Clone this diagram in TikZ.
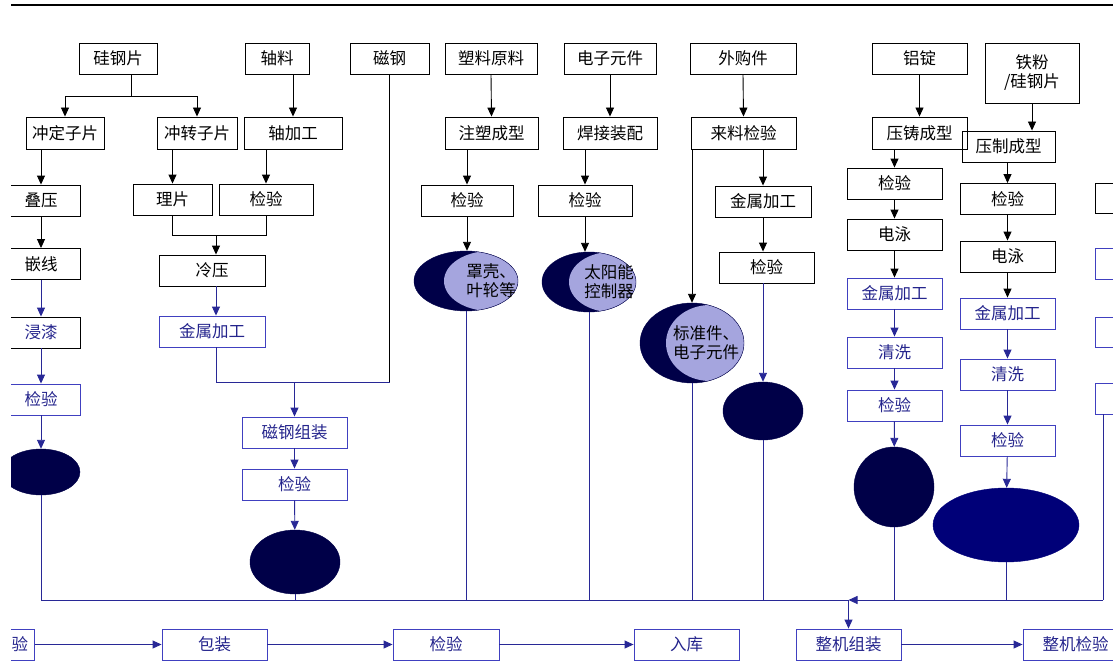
\documentclass[tikz,border=0pt]{standalone}
\usepackage{fontspec}
\setmainfont{Noto Sans CJK SC}
\usetikzlibrary{arrows.meta,shapes.geometric}
\definecolor{bb}{RGB}{64,64,192}
\definecolor{bt}{RGB}{36,36,140}
\definecolor{bl}{RGB}{40,40,150}
\definecolor{navy}{RGB}{0,0,72}
\definecolor{navyb}{RGB}{0,0,120}
\definecolor{lav}{RGB}{165,165,222}
\tikzset{
 bx/.style={draw=black, line width=0.9pt, minimum height=31pt, inner sep=0pt, font=\fontsize{16.5}{19}\selectfont, text=black},
 bbx/.style={bx, draw=bb, text=bt},
 ar/.style={-{Triangle[length=9pt,width=8pt]}, line width=0.9pt, draw=black},
 bar/.style={ar, draw=bl},
 ln/.style={line width=0.9pt, draw=black},
 bln/.style={ln, draw=bl},
 dk/.style={ellipse, fill=navy, draw=navy, inner sep=0pt},
 etxt/.style={inner sep=0pt, align=center, text=black, font=\fontsize{16.5}{19}\selectfont},
 cres/.style n args={3}{ellipse, fill=navy, draw=navy, inner sep=0pt,
   path picture={\fill[lav] ([xshift=#1]path picture bounding box.center) ellipse (#2 and #3);}}
}
\begin{document}
\begin{tikzpicture}[x=1pt,y=-1pt]
\useasboundingbox (0,0) rectangle (1113,666);
\clip (11,0) rectangle (1113,666);
\draw[line width=2.5pt] (11,5) -- (1113,5);
% top row
\node[bx,minimum width=78pt] (t1) at (118,58.5) {硅钢片};
\node[bx,minimum width=64pt] (t2) at (277,58.5) {轴料};
\node[bx,minimum width=79pt] (t3) at (389.5,58.5) {磁钢};
\node[bx,minimum width=92pt] (t4) at (491,58.5) {塑料原料};
\node[bx,minimum width=92pt] (t5) at (610,58.5) {电子元件};
\node[bx,minimum width=106pt] (t6) at (743,58.5) {外购件};
\node[bx,minimum width=95pt] (t7) at (919.5,58.5) {铝锭};
\node[bx,minimum width=94pt,minimum height=60pt,align=center] (t8) at (1032,73) {铁粉\\/硅钢片};
% second row
\node[bx,minimum width=78pt,minimum height=32pt] (r1) at (65,133) {冲定子片};
\node[bx,minimum width=80pt,minimum height=32pt] (r2) at (197,133) {冲转子片};
\node[bx,minimum width=98pt,minimum height=32pt] (r3) at (293,133) {轴加工};
\node[bx,minimum width=93pt,minimum height=32pt] (r4) at (491.5,133) {注塑成型};
\node[bx,minimum width=94pt,minimum height=32pt] (r5) at (610,133) {焊接装配};
\node[bx,minimum width=105pt,minimum height=32pt] (r6) at (743.5,133) {来料检验};
\node[bx,minimum width=95pt,minimum height=32pt] (r7) at (919.5,133) {压铸成型};
\node[bx,minimum width=93pt] (r8) at (1008.5,146.5) {压制成型};
% third row
\node[bx,minimum width=78pt] (s1) at (41,200.5) {叠压};
\node[bx,minimum width=79pt] (s2) at (172.5,199.5) {理片};
\node[bx,minimum width=94pt] (s3) at (266,199.5) {检验};
\node[bx,minimum width=92pt] (s4) at (467,200.5) {检验};
\node[bx,minimum width=94pt] (s5) at (585,200.5) {检验};
\node[bx,minimum width=96pt] (s6) at (763,201.5) {金属加工};
\node[bx,minimum width=95pt] (s7) at (894.5,183.5) {检验};
\node[bx,minimum width=95pt] (s8) at (1007.5,199) {检验};
% left column
\node[bx,minimum width=78pt] (qx) at (41,264) {嵌线};
\node[bx,minimum width=78pt,text=bt] (jq) at (41,332.5) {浸漆};
\node[bbx,minimum width=78pt] (jy1) at (41,399.5) {检验};
\node[dk,minimum width=78pt,minimum height=46pt] (e1) at (41,472) {};
% rotor column
\node[bx,minimum width=106pt] (ly) at (212,270.5) {冷压};
\node[bbx,minimum width=106pt] (jg1) at (212,331.5) {金属加工};
\node[bbx,minimum width=105pt] (cg) at (294.5,432.5) {磁钢组装};
\node[bbx,minimum width=105pt] (jy2) at (294.5,484.5) {检验};
\node[dk,minimum width=90pt,minimum height=64pt] (eM) at (295,562) {};
% plastic / electronics / purchased
\node[cres={24pt}{46pt}{30pt},minimum width=104pt,minimum height=60pt] (e2) at (466,281) {};
\node[etxt] (e2t) at ([xshift=25pt]e2.center) {罩壳、\\叶轮等};
\node[cres={22pt}{42pt}{30pt},minimum width=94pt,minimum height=60pt] (e3) at (589,282) {};
\node[etxt] (e3t) at ([xshift=20pt]e3.center) {太阳能\\控制器};
\node[cres={18pt}{44pt}{38pt},minimum width=104pt,minimum height=80pt] (e4) at (692,343) {};
\node[etxt] (e4t) at ([xshift=14pt]e4.center) {标准件、\\电子元件};
\node[bx,minimum width=95pt] (jy3) at (766.5,267.5) {检验};
\node[dk,minimum width=80pt,minimum height=58pt] (e5) at (763,411) {};
% aluminium column
\node[bx,minimum width=95pt] (dy1) at (894.5,234.5) {电泳};
\node[bbx,minimum width=95pt] (jg2) at (894.5,293.5) {金属加工};
\node[bbx,minimum width=95pt] (qx1) at (894.5,352.5) {清洗};
\node[bbx,minimum width=95pt] (jy4) at (894.5,405.5) {检验};
\node[dk,minimum width=80pt,minimum height=80pt] (e6) at (894,487) {};
% iron column
\node[bx,minimum width=95pt] (dy2) at (1007.5,256.5) {电泳};
\node[bbx,minimum width=95pt] (jg3) at (1007.5,313.5) {金属加工};
\node[bbx,minimum width=95pt] (qx2) at (1007.5,374.5) {清洗};
\node[bbx,minimum width=95pt] (jy5) at (1007.5,440.5) {检验};
\node[dk,fill=navyb,draw=navyb,minimum width=146pt,minimum height=74pt] (e7) at (1006,525) {};
% right column (cut off)
\node[bx,minimum width=95pt,minimum height=30pt] (rc1) at (1142.5,198) {};
\node[bbx,minimum width=95pt] (rc2) at (1142.5,263.5) {};
\node[bbx,minimum width=95pt,minimum height=30pt] (rc3) at (1142.5,332) {};
\node[bbx,minimum width=95pt] (rc4) at (1142.5,398.5) {};
% bottom row
\node[bbx,minimum width=105pt] (b0) at (-18,644.5) {\hspace*{76pt}验};
\node[bbx,minimum width=105pt] (b1) at (214.5,644.5) {包装};
\node[bbx,minimum width=106pt] (b2) at (446,644.5) {检验};
\node[bbx,minimum width=105pt] (b3) at (686.5,644.5) {入库};
\node[bbx,minimum width=105pt] (b4) at (848.5,644.5) {整机组装};
\node[bbx,minimum width=105pt] (b5) at (1075.5,644.5) {整机检验};
% connectors top
\draw[ln] ([xshift=13pt]t1.south) -- ++(0,22) coordinate (j1);
\draw[ar] (j1) -| (r1.north);
\draw[ar] (j1) -| (r2.north);
\draw[ar] (t2.south -| r3.north) -- (r3.north);
\draw[ar] (t4.south) -- (r4.north);
\draw[ar] (t5.south) -- (r5.north);
\draw[ar] (t6.south) -- (r6.north);
\draw[ar] (t7.south) -- (r7.north);
\draw[ar] (t8.south) -- (t8.south |- r8.north);
% row2 -> row3
\draw[ar] (r1.south -| s1.north) -- (s1.north);
\draw[ar] (r2.south -| s2.north) -- (s2.north);
\draw[ar] (r3.south -| s3.north) -- (s3.north);
\draw[ar] (r4.south -| s4.north) -- (s4.north);
\draw[ar] (r5.south -| s5.north) -- (s5.north);
\draw[ar] (r6.south -| s6.north) -- (s6.north);
\draw[ar] (r7.south -| s7.north) -- (s7.north);
\draw[ar] (r8.south -| s8.north) -- (s8.north);
% left column
\draw[ar] (s1) -- (qx);
\draw[bar] (qx) -- (jq);
\draw[bar] (jq) -- (jy1);
\draw[bar] (jy1) -- (e1);
% rotor
\draw[ln] (s2.south) -- ++(0,20) coordinate (m1) -- (m1 -| s3.south) -- (s3.south);
\coordinate (m2) at (216,235);
\draw[ar] (m2) -- (m2 |- ly.north);
\draw[bar] ([xshift=4pt]ly.south) -- ([xshift=4pt]jg1.north);
\coordinate (m3) at (389.5,382);
\coordinate (m4) at (294.5,382);
\draw[ln] (t3.south) -- (m3);
\draw[bln] ([xshift=4pt]jg1.south) |- (m3);
\draw[bar] (m4) -- (cg.north);
\draw[bar] (cg) -- (jy2);
\draw[bar] (jy2) -- (eM);
% plastic etc.
\draw[ar] (s4.south) -- (s4.south |- e2.north);
\draw[ar] (s5.south) -- (s5.south |- e3.north);
\draw[ar] ([xshift=-51.5pt]r6.south) -- (e4.north);
\draw[ar] (s6) -- (s6 |- jy3.north);
\draw[bar] (s6.south |- jy3.south) -- (e5.north);
% aluminium
\draw[ar] (s7) -- (dy1);
\draw[ar] (dy1) -- (jg2);
\draw[bar] (jg2) -- (qx1);
\draw[bar] (qx1) -- (jy4);
\draw[bar] (jy4) -- (e6);
% iron
\draw[ar] (s8) -- (dy2);
\draw[ar] (dy2) -- (jg3);
\draw[bar] (jg3) -- (qx2);
\draw[bar] (qx2) -- (jy5);
\draw[bar] (jy5) -- (e7);
% collecting lines
\coordinate (bL) at (41,600);
\coordinate (bJ) at (848.5,600);
\coordinate (bR) at (1103,600);
\draw[bln] (e1.south) -- (bL) -- (bJ);
\draw[bln] (eM.south) -- (eM.south |- bJ);
\draw[bln] (e2.south) -- (e2.south |- bJ);
\draw[bln] (e3.south) -- (e3.south |- bJ);
\draw[bln] (e4.south) -- (e4.south |- bJ);
\draw[bln] (e5.south) -- (e5.south |- bJ);
\draw[bln] (e6.south) -- (e6.south |- bR);
\draw[bln] (e7.south) -- (e7.south |- bR);
\draw[bln] (rc4.south -| bR) -- (bR);
\draw[bar] (bR) -- (bJ);
\draw[bar] (bJ) -- (b4.north);
% bottom flow
\draw[bar] (b0) -- (b1);
\draw[bar] (b1) -- (b2);
\draw[bar] (b2) -- (b3);
\draw[bar] (b4) -- (b5);
\end{tikzpicture}
\end{document}
